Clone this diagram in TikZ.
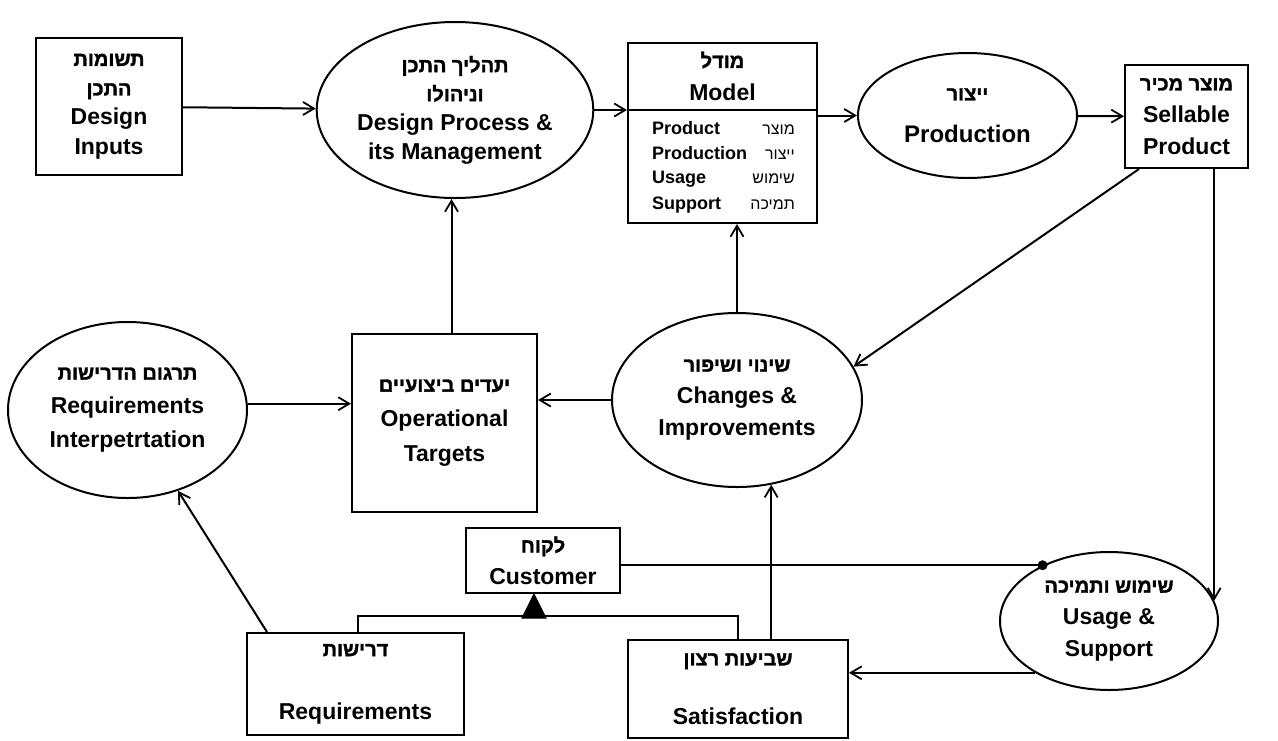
\documentclass[tikz,border=0pt]{standalone}
\usepackage{fontspec}
\setmainfont{Liberation Sans}
\newfontfamily\heb[Script=Hebrew]{Liberation Sans}
\newfontfamily\hebbold[Script=Hebrew,FakeBold=1.6]{Liberation Sans Bold}
\TeXXeTstate=1
\usetikzlibrary{shapes.geometric,arrows.meta}
% Hebrew label text (right to left) for the main shapes and for the model rows
\newcommand{\hebtxt}[1]{{\hebbold\fontsize{20}{32}\selectfont\beginR#1\endR}}
\newcommand{\hebrow}[1]{{\heb\beginR#1\endR}}
\begin{document}
\begin{tikzpicture}[x=1pt,y=-1pt,
  every node/.style={font=\bfseries\fontsize{23}{32}\selectfont, align=center, inner sep=0pt},
  box/.style={draw, rectangle, line width=2pt},
  oval/.style={draw, ellipse, line width=2pt},
  link/.style={line width=2pt},
  arr/.style={link, -{Straight Barb[length=11pt,width=13pt,line width=1.8pt]}},
  rowen/.style={anchor=base west, font=\bfseries\fontsize{18}{20}\selectfont},
  rowhe/.style={anchor=base east, font=\mdseries\fontsize{16}{20}\selectfont}
]
\fill[white] (0,0) rectangle (1278,740);
\useasboundingbox (0,0) rectangle (1278,740);

% ---- shapes ----
\node[box, minimum width=146pt, minimum height=137pt, font=\bfseries\fontsize{23}{29.5}\selectfont] (din) at (109,106.5)
  {\hebtxt{תשומות}\\\hebtxt{התכן}\\Design\\Inputs};
\node[oval, minimum width=251pt, minimum height=176pt, font=\bfseries\fontsize{23}{29}\selectfont] (dp) at (455,110)
  {\hebtxt{תהליך התכן}\\\hebtxt{וניהולו}\\Design Process \&\\its Management};
\node[box, minimum width=189pt, minimum height=180pt] (model) at (722.5,133) {};
\node[oval, minimum width=219pt, minimum height=125pt, font=\bfseries\fontsize{24}{42}\selectfont] (prod) at (967.5,115.5)
  {\hebtxt{ייצור}\\Production};
\node[box, minimum width=123pt, minimum height=103pt] (sell) at (1186.5,116.5)
  {\hebtxt{מוצר מכיר}\\Sellable\\Product};
\node[oval, minimum width=239pt, minimum height=176pt, font=\bfseries\fontsize{23}{34}\selectfont] (ri) at (127.5,410)
  {\hebtxt{תרגום הדרישות}\\Requirements\\Interpetrtation};
\node[box, minimum width=185pt, minimum height=178pt, font=\bfseries\fontsize{23}{35}\selectfont] (ot) at (444.5,423)
  {\hebtxt{יעדים ביצועיים}\\Operational\\Targets};
\node[oval, minimum width=250pt, minimum height=174pt] (ci) at (737,400)
  {\hebtxt{שינוי ושיפור}\\Changes \&\\Improvements};
\node[box, minimum width=154pt, minimum height=65pt] (cust) at (543,560.5)
  {\hebtxt{לקוח}\\Customer};
\node[oval, minimum width=218pt, minimum height=138pt] (us) at (1109,621)
  {\hebtxt{שימוש ותמיכה}\\Usage \&\\Support};
\node[box, minimum width=217pt, minimum height=102pt] (req) at (355.5,684)
  {\hebtxt{דרישות}\\[31pt]Requirements};
\node[box, minimum width=220pt, minimum height=98pt] (sat) at (738,689)
  {\hebtxt{שביעות רצון}\\[27pt]Satisfaction};

% ---- model compartments ----
\node (modelhe) at (722.5,60) {\hebtxt{מודל}};
\node (modelen) at (722.5,92) {Model};
\draw[link] (model.west |- 0,110) -- (model.east |- 0,110);
\node[rowen] (r1en) at (652,134) {Product};
\node[rowhe] (r1he) at (795,134) {\hebrow{מוצר}};
\node[rowen] (r2en) at (652,159) {Production};
\node[rowhe] (r2he) at (795,159) {\hebrow{ייצור}};
\node[rowen] (r3en) at (652,183) {Usage};
\node[rowhe] (r3he) at (795,183) {\hebrow{שימוש}};
\node[rowen] (r4en) at (652,209) {Support};
\node[rowhe] (r4he) at (795,209) {\hebrow{תמיכה}};

% ---- flows ----
\draw[arr] (din) -- (dp);
\draw[arr] (dp.east) -- (dp.east -| model.west);
\draw[arr] (model.east |- prod) -- (prod.west);
\draw[arr] (prod) -- (sell);
\draw[arr] ([xshift=15pt]sell.south west) -- (ci.16);
\draw[arr] (us.11 |- sell.south) -- (us.11);
\draw[arr] (ci.west) -- (ci.west -| ot.east);
\draw[arr] (ri.3) -- (ri.3 -| ot.west);
\draw[arr] (ci.north) -- (ci.north |- model.south);
\draw[arr] ([xshift=7pt]ot.north) -- ([xshift=7pt]ot.north |- dp.south);
\draw[arr] ([xshift=21pt]req.north west) -- (ri.-58);
\draw[arr] (ci.-68 |- sat.north) -- (ci.-68);
\draw[arr] (us.215) -- (us.215 -| sat.east);

% customer takes part in usage & support
\draw[link] (cust.east |- us.140) -- (us.140);
\fill (us.140) circle (5pt);

% requirements and satisfaction as kinds of customer concern
\draw[link] ([xshift=2.5pt]req.north) -- ++(0,-16) -| (sat.north);
\filldraw[line width=1pt] ([xshift=-9pt]cust.south) -- ++(-12,24) -- ++(24,0) -- cycle;
\end{tikzpicture}
\end{document}
